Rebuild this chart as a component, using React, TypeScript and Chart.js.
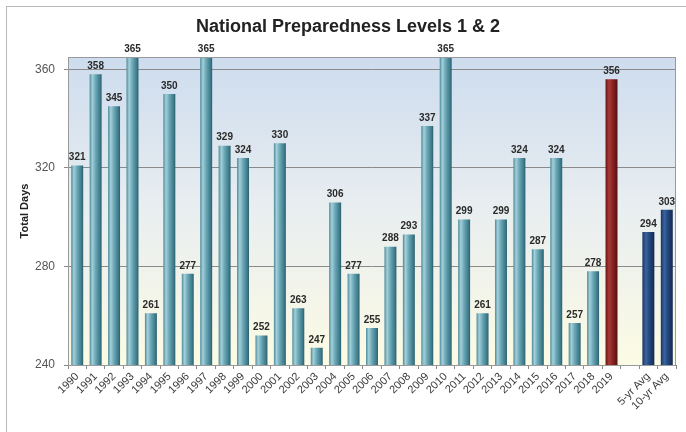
import React, { useEffect, useRef } from "react";
import { Chart, registerables } from "chart.js";

Chart.register(...registerables);

const categories: string[] = [
  "1990", "1991", "1992", "1993", "1994", "1995", "1996", "1997", "1998", "1999",
  "2000", "2001", "2002", "2003", "2004", "2005", "2006", "2007", "2008", "2009",
  "2010", "2011", "2012", "2013", "2014", "2015", "2016", "2017", "2018", "2019",
  "", "5-yr Avg", "10-yr Avg",
];

const totalDays: (number | null)[] = [
  321, 358, 345, 365, 261, 350, 277, 365, 329, 324,
  252, 330, 263, 247, 306, 277, 255, 288, 293, 337,
  365, 299, 261, 299, 324, 287, 324, 257, 278, 356,
  null, 294, 303,
];

const yTicks: number[] = [240, 280, 320, 360];

const TITLE = "National Preparedness Levels 1 & 2";
const Y_TITLE = "Total Days";
const FONT = "'Liberation Sans', Arial, sans-serif";

function kindOf(label: string): "teal" | "red" | "navy" {
  if (label === "2019") return "red";
  if (label.indexOf("Avg") >= 0) return "navy";
  return "teal";
}

const STOPS: Record<string, [number, string][]> = {
  teal: [
    [0, "#4c8a99"],
    [0.22, "#a3d0da"],
    [0.5, "#6aa6b4"],
    [0.85, "#3e7b8b"],
    [1, "#2c5f6c"],
  ],
  red: [
    [0, "#6a1515"],
    [0.3, "#a83a36"],
    [0.6, "#8a2323"],
    [1, "#561010"],
  ],
  navy: [
    [0, "#1a3460"],
    [0.3, "#3a64a0"],
    [0.6, "#23457c"],
    [1, "#142a50"],
  ],
};

const BAR_PCT = 0.65;

const bgPlugin = {
  id: "bgPlugin",
  beforeDraw(chart: any) {
    const { ctx, chartArea } = chart;
    ctx.save();
    ctx.fillStyle = "#ffffff";
    ctx.fillRect(0, 0, chart.width, chart.height);
    ctx.strokeStyle = "#b8b8b8";
    ctx.lineWidth = 1;
    ctx.strokeRect(6.5, 6.5, chart.width + 20, chart.height + 20);
    const g = ctx.createLinearGradient(0, chartArea.top, 0, chartArea.bottom);
    g.addColorStop(0, "#cddcee");
    g.addColorStop(0.5, "#e9eef0");
    g.addColorStop(1, "#fcfbe4");
    ctx.fillStyle = g;
    ctx.fillRect(chartArea.left, chartArea.top, chartArea.right - chartArea.left, chartArea.bottom - chartArea.top);
    ctx.restore();
  },
  beforeDatasetsDraw(chart: any) {
    // shade each bar with a horizontal, cylinder-like gradient based on its laid-out position
    const meta = chart.getDatasetMeta(0);
    const ctx = chart.ctx;
    meta.data.forEach((el: any, i: number) => {
      const kind = kindOf(categories[i] || "");
      const w = el.width;
      if (!isFinite(el.x) || !isFinite(w) || w <= 0) return;
      const g = ctx.createLinearGradient(el.x - w / 2, 0, el.x + w / 2, 0);
      STOPS[kind].forEach(([o, col]) => g.addColorStop(o, col));
      el.options.backgroundColor = g;
    });
  },
  afterDatasetsDraw(chart: any) {
    const { ctx, chartArea } = chart;
    ctx.save();
    ctx.strokeStyle = "#9a9a9a";
    ctx.lineWidth = 1;
    ctx.strokeRect(chartArea.left + 0.5, chartArea.top + 0.5, chartArea.right - chartArea.left - 1, chartArea.bottom - chartArea.top);
    const meta = chart.getDatasetMeta(0);
    ctx.font = `bold 10px ${FONT}`;
    ctx.fillStyle = "#2a2a2a";
    ctx.textAlign = "center";
    ctx.textBaseline = "bottom";
    meta.data.forEach((el: any, i: number) => {
      const v = totalDays[i];
      if (v === null || v === undefined) return;
      ctx.fillText(String(v), el.x, el.y - 3);
    });
    ctx.restore();
  },
};

export default function App() {
  const ref = useRef<HTMLCanvasElement | null>(null);

  useEffect(() => {
    if (!ref.current) return;
    const chart = new Chart(ref.current, {
      type: "bar",
      data: {
        labels: categories,
        datasets: [
          {
            data: totalDays,
            barPercentage: BAR_PCT,
            categoryPercentage: 1,
            borderWidth: 0,
            backgroundColor: categories.map((l) => STOPS[kindOf(l)][2][1]),
          },
        ],
      },
      options: {
        animation: false,
        responsive: false,
        maintainAspectRatio: false,
        layout: { padding: { left: 20, right: 10, top: 0, bottom: 0 } },
        plugins: {
          legend: { display: false },
          tooltip: { enabled: false },
          title: {
            display: true,
            text: TITLE,
            color: "#222222",
            font: { family: FONT, size: 18, weight: "bold" },
            padding: { top: 16, bottom: 19.4 },
          },
        },
        scales: {
          x: {
            grid: { display: true, drawOnChartArea: false, drawTicks: true, tickLength: 4, color: "#8a8a8a" },
            border: { display: true, color: "#7a7a7a" },
            ticks: {
              color: "#3a3a3a",
              font: { family: FONT, size: 11 },
              minRotation: 45,
              maxRotation: 45,
              autoSkip: false,
              padding: 1,
            },
            afterFit: (s: any) => {
              s.height = 67;
            },
          },
          y: {
            min: 240,
            max: 365,
            afterBuildTicks: (s: any) => {
              s.ticks = yTicks.map((v) => ({ value: v }));
            },
            grid: { color: "#8a8a8a", lineWidth: 1, tickLength: 4 },
            border: { display: true, color: "#9a9a9a" },
            ticks: {
              color: "#555555",
              font: { family: FONT, size: 12 },
              padding: 9,
            },
            title: {
              display: true,
              text: Y_TITLE,
              color: "#222222",
              font: { family: FONT, size: 11, weight: "bold" },
              padding: { top: -2, bottom: 4 },
            },
            afterFit: (s: any) => {
              s.width = 48;
            },
          },
        },
      },
      plugins: [bgPlugin],
    } as any);
    return () => chart.destroy();
  }, []);

  return (
    <div style={{ position: "absolute", left: 0, top: 0, width: 686, height: 432, background: "#fff" }}>
      <canvas ref={ref} width={686} height={432} style={{ width: 686, height: 432, display: "block" }} />
    </div>
  );
}
